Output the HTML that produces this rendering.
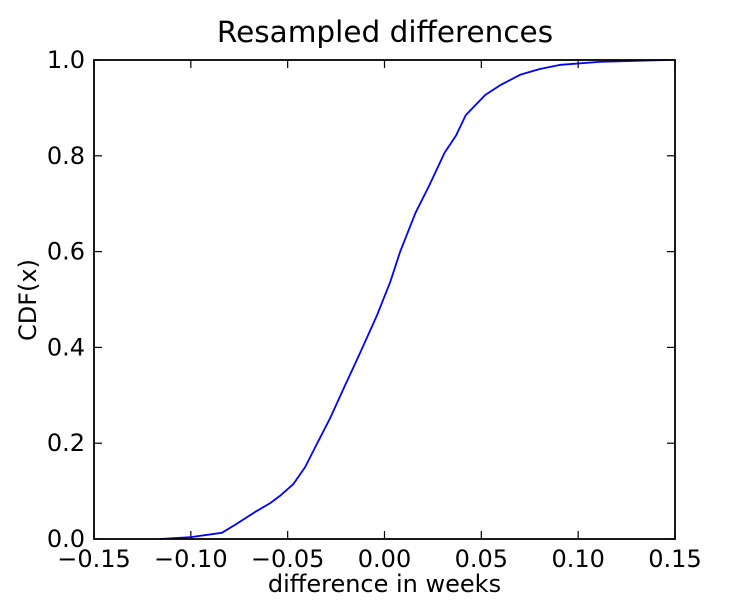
<!DOCTYPE html>
<html><head><meta charset="utf-8"><style>
body{margin:0;background:#fff;}
svg text{font-family:"DejaVu Sans","Liberation Sans",sans-serif;fill:#000;}
</style></head><body>
<svg id="chart" width="750" height="600" xmlns="http://www.w3.org/2000/svg">
<rect width="750" height="600" fill="#fff"/>
<text x="385" y="42" font-size="29.5" text-anchor="middle">Resampled differences</text>
<text x="384.5" y="592" font-size="24" text-anchor="middle">difference in weeks</text>
<text x="0" y="0" font-size="24" text-anchor="middle" transform="translate(36,300) rotate(-90)">CDF(x)</text>
<g id="ticks"></g>
<path id="cdf-line" fill="none" stroke="#0000ff" stroke-width="1.8" stroke-linejoin="round"/>
<rect x="94" y="60" width="581" height="479" fill="none" stroke="#000" stroke-width="1.8"/>
</svg>
<script>
const xTicks=[-0.15,-0.10,-0.05,0.00,0.05,0.10,0.15];
const xTickLabels=["\u22120.15","\u22120.10","\u22120.05","0.00","0.05","0.10","0.15"];
const yTicks=[0,0.2,0.4,0.6,0.8,1.0];
const yTickLabels=["0.0","0.2","0.4","0.6","0.8","1.0"];
const diffs=[-0.116,-0.100,-0.084,-0.077,-0.067,-0.059,-0.054,-0.047,-0.041,-0.036,-0.028,-0.020,-0.013,-0.004,0.003,0.008,0.016,0.023,0.031,0.037,0.042,0.052,0.060,0.070,0.080,0.091,0.111,0.146];
const cdf=[0,0.004,0.013,0.03,0.056,0.075,0.090,0.115,0.150,0.19,0.253,0.324,0.385,0.466,0.537,0.599,0.681,0.737,0.806,0.843,0.885,0.927,0.948,0.969,0.981,0.99,0.996,1.0];
const X0=94,X1=675,Y0=539,Y1=60;
const sx=v=>X0+(v+0.15)/0.3*(X1-X0);
const sy=v=>Y0-v*(Y0-Y1);
const ns="http://www.w3.org/2000/svg";
const g=document.getElementById('ticks');
function line(x1,y1,x2,y2,name){const l=document.createElementNS(ns,'line');l.setAttribute('x1',x1);l.setAttribute('y1',y1);l.setAttribute('x2',x2);l.setAttribute('y2',y2);l.setAttribute('stroke','#000');l.setAttribute('stroke-width','1.2');


g.appendChild(l);}
function text(x,y,s,anchor,name){const t=document.createElementNS(ns,'text');t.setAttribute('x',x);t.setAttribute('y',y);t.setAttribute('font-size','24');t.setAttribute('text-anchor',anchor);t.textContent=s;


g.appendChild(t);}
xTicks.forEach((v,i)=>{const x=sx(v);line(x,Y0,x,Y0-8,'x-tick');line(x,Y1,x,Y1+8,'x-tick-top');text(x,Y0+28,xTickLabels[i],'middle','x-tick-label');});
yTicks.forEach((v,i)=>{const y=sy(v);line(X0,y,X0+8,y,'y-tick');line(X1,y,X1-8,y,'y-tick-right');text(X0-9,y+8,yTickLabels[i],'end','y-tick-label');});
let d='';diffs.forEach((v,i)=>{d+=(i?'L':'M')+sx(v).toFixed(1)+','+sy(cdf[i]).toFixed(1);});
document.getElementById('cdf-line').setAttribute('d',d);
</script>
</body></html>
